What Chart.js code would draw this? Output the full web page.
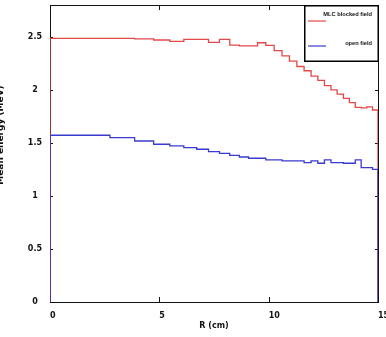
<!DOCTYPE html>
<html>
<head>
<meta charset="utf-8">
<script src="https://cdn.jsdelivr.net/npm/chart.js@4.4.0/dist/chart.umd.min.js"></script>
<style>
html, body { margin: 0; padding: 0; background: #fff; }
canvas { display: block; }
</style>
</head>
<body>
<canvas id="energyChart" width="386" height="337"></canvas>
<script>
// radial bin edges in cm (rings get narrower towards the edge)
var binEdges = [0, 2.74, 3.87, 4.74, 5.48, 6.12, 6.71, 7.25, 7.75, 8.22, 8.66, 9.08, 9.49, 9.87,
    10.25, 10.61, 10.95, 11.29, 11.62, 11.94, 12.25, 12.55, 12.85, 13.13, 13.42, 13.69, 13.96,
    14.23, 14.49, 14.75, 15];
var mlcEnergy = [2.485, 2.485, 2.48, 2.47, 2.457, 2.476, 2.476, 2.448, 2.476, 2.422, 2.415, 2.415,
    2.444, 2.42, 2.37, 2.32, 2.27, 2.22, 2.18, 2.13, 2.09, 2.04, 2.0, 1.96, 1.92, 1.88, 1.835,
    1.83, 1.84, 1.81];
var openEnergy = [1.572, 1.55, 1.518, 1.487, 1.471, 1.456, 1.44, 1.418, 1.402, 1.383, 1.367, 1.355,
    1.355, 1.339, 1.339, 1.33, 1.33, 1.33, 1.314, 1.33, 1.308, 1.339, 1.314, 1.314, 1.308, 1.308,
    1.339, 1.267, 1.267, 1.251];
var seriesLabels = ["MLC blocked field", "open field"];
var xTicks = [0, 5, 10, 15];
var yTicks = [0, 0.5, 1, 1.5, 2, 2.5];
var xTitle = "R (cm)";
var yTitle = "Mean energy (MeV)";

var red = "rgb(226, 72, 74)";
var blue = "rgb(58, 58, 206)";
var tickFont = { family: "DejaVu Sans", size: 8, weight: "bold" };

// histogram outline: start and end on the axis
function stepPoints(vals) {
    var pts = [{ x: binEdges[0], y: 0 }];
    for (var i = 0; i < vals.length; i++) {
        pts.push({ x: binEdges[i], y: vals[i] });
    }
    pts.push({ x: binEdges[binEdges.length - 1], y: 0 });
    return pts;
}

var framePlugin = {
    id: "frame",
    beforeDatasetsDraw: function(chart) {
        var ctx = chart.ctx, a = chart.chartArea;
        var xs = chart.scales.x, ys = chart.scales.y;
        ctx.save();
        ctx.strokeStyle = "#111";
        ctx.lineWidth = 1;
        ctx.strokeRect(a.left + 0.5, a.top + 0.5, a.right - a.left, a.bottom - a.top);
        ctx.beginPath();
        yTicks.forEach(function(v) {
            if (v === 0) return;
            var py = Math.round(ys.getPixelForValue(v)) + 0.5;
            ctx.moveTo(a.left, py); ctx.lineTo(a.left + 3, py);
            ctx.moveTo(a.right, py); ctx.lineTo(a.right - 3, py);
        });
        xTicks.forEach(function(v) {
            if (v === xs.min || v === xs.max) return;
            var px = Math.round(xs.getPixelForValue(v)) + 0.5;
            ctx.moveTo(px, a.bottom); ctx.lineTo(px, a.bottom - 5);
            ctx.moveTo(px, a.top); ctx.lineTo(px, a.top + 5);
        });
        ctx.stroke();
        ctx.restore();
    },
    afterDraw: function(chart) {
        var ctx = chart.ctx, a = chart.chartArea;
        ctx.save();
        // y axis title, runs off the left edge as in the original
        ctx.translate(3, 135);
        ctx.rotate(-Math.PI / 2);
        ctx.font = "bold 9px 'DejaVu Sans'";
        ctx.fillStyle = "#111";
        ctx.textAlign = "center";
        ctx.textBaseline = "alphabetic";
        ctx.fillText(yTitle, 0, 0);
        ctx.restore();

        // legend box in the top right corner
        var bx = a.right - 74, by = a.top, bw = 74, bh = 56;
        ctx.save();
        ctx.fillStyle = "#fff";
        ctx.fillRect(bx, by, bw, bh);
        ctx.strokeStyle = "#000";
        ctx.lineWidth = 1.5;
        ctx.strokeRect(bx + 0.75, by + 0.75, bw - 0.5, bh - 0.5);
        ctx.font = "bold 5.7px 'Liberation Sans'";
        ctx.textAlign = "right";
        ctx.textBaseline = "middle";
        chart.data.datasets.forEach(function(ds, i) {
            ctx.fillStyle = "#111";
            ctx.fillText(ds.label, bx + bw - 6, by + 9 + i * 29.5);
            ctx.strokeStyle = ds.borderColor;
            ctx.lineWidth = 1.2;
            ctx.beginPath();
            ctx.moveTo(bx + 4, by + 16 + i * 25);
            ctx.lineTo(bx + 22, by + 16 + i * 25);
            ctx.stroke();
        });
        ctx.restore();
    }
};

new Chart(document.getElementById("energyChart"), {
    type: "line",
    data: {
        datasets: [
            {
                label: seriesLabels[0],
                data: stepPoints(mlcEnergy),
                borderColor: red,
                borderWidth: 1.3,
                stepped: "before",
                pointRadius: 0,
                fill: false,
                order: 1
            },
            {
                label: seriesLabels[1],
                data: stepPoints(openEnergy),
                borderColor: blue,
                borderWidth: 1.3,
                stepped: "before",
                pointRadius: 0,
                fill: false,
                order: 0
            }
        ]
    },
    options: {
        responsive: false,
        animation: false,
        devicePixelRatio: 1,
        layout: { padding: { left: 0, right: 8, top: 5, bottom: 0 } },
        plugins: { legend: { display: false }, tooltip: { enabled: false } },
        scales: {
            x: {
                type: "linear",
                min: 0,
                max: 15,
                afterBuildTicks: function(scale) {
                    scale.ticks = xTicks.map(function(v) { return { value: v }; });
                },
                afterFit: function(scale) {
                    scale.height = 35;
                    scale.paddingLeft = 0;
                    scale.paddingRight = 0;
                },
                grid: { display: false, drawTicks: false },
                border: { display: false },
                ticks: { align: "start", font: tickFont, color: "#111", padding: 9, maxRotation: 0 },
                title: { display: true, text: xTitle, font: tickFont, color: "#111", padding: { top: 0, bottom: 6 } }
            },
            y: {
                min: 0,
                max: 2.8,
                afterBuildTicks: function(scale) {
                    scale.ticks = yTicks.map(function(v) { return { value: v }; });
                },
                afterFit: function(scale) {
                    scale.width = 50;
                    scale.paddingTop = 0;
                    scale.paddingBottom = 0;
                },
                grid: { display: false, drawTicks: false },
                border: { display: false },
                ticks: {
                    crossAlign: "center", font: tickFont, color: "#111", padding: 8,
                    callback: function(v) { return String(v); }
                }
            }
        }
    },
    plugins: [framePlugin]
});
</script>
</body>
</html>
